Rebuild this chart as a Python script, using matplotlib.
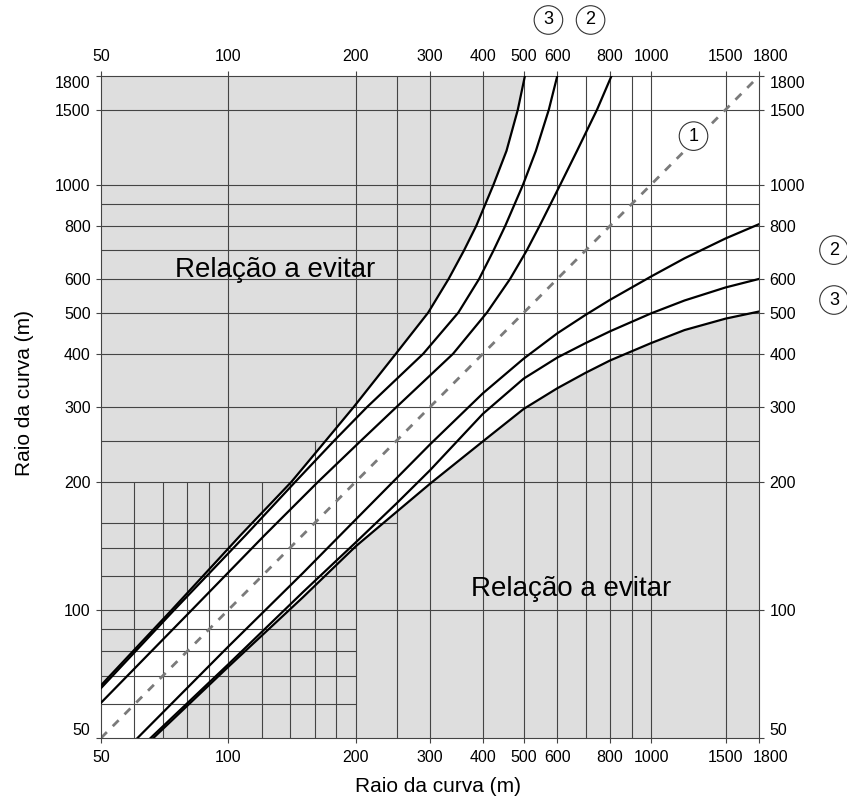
import numpy as np
import matplotlib
matplotlib.use('Agg')
import matplotlib.pyplot as plt
from matplotlib.transforms import ScaledTranslation

plt.rcParams['font.family'] = ['Liberation Sans', 'DejaVu Sans']

# --- dados (raio maior -> raio menor) ---
# curva exterior (limite da zona 3, termina em 500) - simetrica
r_large_500 = [66.5, 100, 150, 200, 250, 300, 400, 500, 600, 700, 800, 1000, 1200, 1500, 1800]
r_small_500 = [50, 73.5, 107, 141, 170, 198, 249, 297, 332, 361, 386, 424, 455, 484, 503]
# curva intermedia (termina em 600) - simetrica
r_large_600 = [65.5, 100, 150, 200, 250, 300, 400, 500, 600, 700, 800, 1000, 1200, 1500, 1800]
r_small_600 = [50, 74.5, 110, 144, 178, 213, 289, 350, 392, 424, 452, 498, 534, 573, 600]
# curva interior (termina em 800), ramo superior
r_large_800_up = [60.5, 100, 150, 200, 250, 300, 400, 500, 600, 700, 800, 1000, 1200, 1500, 1800]
r_small_800_up = [50, 82, 122, 163, 206, 250, 340, 409, 464, 508, 545, 610, 668, 745, 806]
# curva interior (termina em 800), ramo inferior
r_large_800_lo = [61, 100, 150, 200, 300, 400, 500, 600, 700, 800, 1000, 1200, 1500, 1800]
r_small_800_lo = [50, 82, 122, 163, 245, 323, 390, 447, 494, 536, 608, 671, 747, 807]

diag = [50, 1800]

# eixos
ticks = [50, 100, 200, 300, 400, 500, 600, 800, 1000, 1500, 1800]
yticks = [50, 100, 200, 300, 400, 500, 600, 800, 1000, 1500, 1800]

# grelha
grid_full = [100, 200, 250, 300, 400, 500, 600, 700, 800, 900, 1000, 1500]
fine_x = [60, 70, 80, 90, 120, 140, 160, 180]
fine_x_top = [200, 200, 200, 200, 200, 200, 250, 300]
fine_y = [60, 70, 80, 90, 120, 140, 160]
fine_y_right = [200, 200, 200, 200, 200, 200, 250]

GRAY = '#dedede'
GRID = '#444444'

fig = plt.figure(figsize=(8.47, 7.98), dpi=100)
ax = fig.add_axes([101 / 847, 60 / 798, 658 / 847, 662 / 798])
ax.set_xscale('log')
ax.set_yscale('log')
ax.set_xlim(50, 1800)
ax.set_ylim(50, 1800)

# zonas a evitar
ax.fill_betweenx(r_large_500, 50, r_small_500, color=GRAY, lw=0, zorder=0)
ax.fill_between(r_large_500, 50, r_small_500, color=GRAY, lw=0, zorder=0)

# grelha
ax.vlines(grid_full, 50, 1800, color=GRID, lw=0.8, zorder=1)
ax.hlines(grid_full, 50, 1800, color=GRID, lw=0.8, zorder=1)
ax.vlines(fine_x, 50, fine_x_top, color=GRID, lw=0.8, zorder=1)
ax.hlines(fine_y, 50, fine_y_right, color=GRID, lw=0.8, zorder=1)

# curvas: ramo superior (x = raio menor) e ramo inferior (y = raio menor)
upper = [(r_large_500, r_small_500), (r_large_600, r_small_600), (r_large_800_up, r_small_800_up)]
lower = [(r_large_500, r_small_500), (r_large_600, r_small_600), (r_large_800_lo, r_small_800_lo)]
for big, small in upper:
    ax.plot(small, big, color='black', lw=1.6, zorder=3, solid_joinstyle='round')
for big, small in lower:
    ax.plot(big, small, color='black', lw=1.6, zorder=3, solid_joinstyle='round')

ax.plot(diag, diag, color='#7a7a7a', lw=2, dashes=(3, 3), zorder=2)

for sp in ax.spines.values():
    sp.set_color(GRID)
    sp.set_linewidth(0.8)

ax.set_xticks(ticks)
ax.set_xticklabels([str(t) for t in ticks])
ax.set_yticks(yticks)
ax.set_yticklabels([str(t) for t in yticks])
ax.minorticks_off()
ax.tick_params(which='both', direction='out', length=3.5, width=0.8, color=GRID,
               labelsize=11.5, top=True, right=True, labeltop=True, labelright=True)
ax.tick_params(axis='x', pad=5)
ax.tick_params(axis='y', pad=4)

# ajustar as etiquetas dos extremos
yt = ax.yaxis.get_major_ticks()
for lab in (yt[0].label1, yt[0].label2):
    lab.set_va('bottom')
for lab in (yt[-1].label1, yt[-1].label2):
    lab.set_va('top')
xt = ax.xaxis.get_major_ticks()
shift = ScaledTranslation(8 / 72, 0, fig.dpi_scale_trans)
for lab in (xt[-1].label1, xt[-1].label2):
    lab.set_transform(lab.get_transform() + shift)

ax.text(129, 607, 'Relação a evitar', fontsize=20, ha='center', va='baseline', zorder=4)
ax.text(646, 107.7, 'Relação a evitar', fontsize=20, ha='center', va='baseline', zorder=4)

circ = dict(boxstyle='circle,pad=0.32', fc='white', ec='#333333', lw=0.8)
ax.text(1260, 1300, '1', fontsize=13, ha='center', va='center', bbox=circ, zorder=5)
ax.text(0.680, 1.0846, '3', transform=ax.transAxes, fontsize=13, ha='center', va='center', bbox=circ)
ax.text(0.744, 1.0846, '2', transform=ax.transAxes, fontsize=13, ha='center', va='center', bbox=circ)
ax.text(1.114, 0.737, '2', transform=ax.transAxes, fontsize=13, ha='center', va='center', bbox=circ, clip_on=False)
ax.text(1.114, 0.6616, '3', transform=ax.transAxes, fontsize=13, ha='center', va='center', bbox=circ, clip_on=False)

fig.text(438 / 847, 1 - 786 / 798, 'Raio da curva (m)', fontsize=15, ha='center', va='center')
fig.text(24 / 847, 1 - 393 / 798, 'Raio da curva (m)', fontsize=15, ha='center', va='center', rotation=90)

fig.savefig('out.png', dpi=100)
